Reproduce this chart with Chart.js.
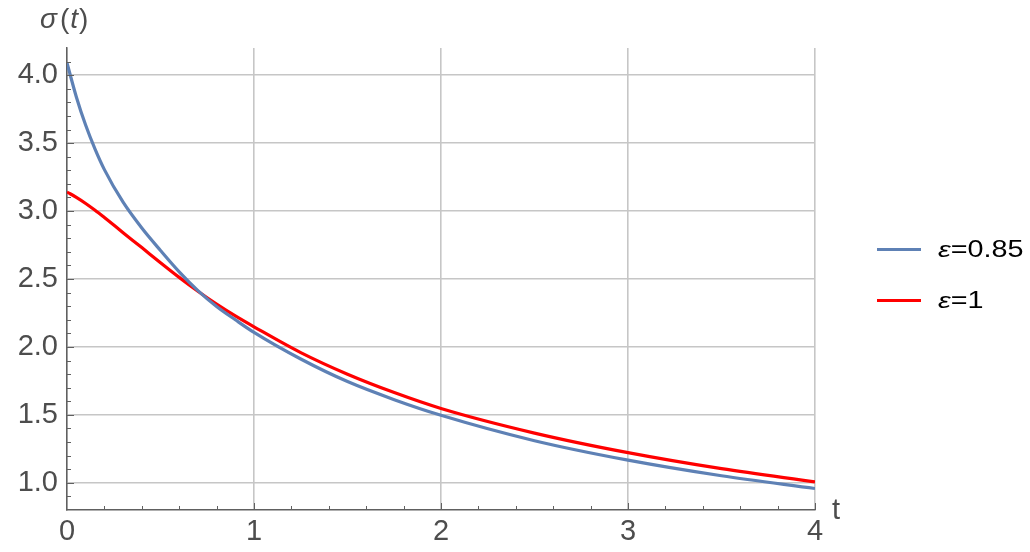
<!DOCTYPE html>
<html>
<head>
<meta charset="utf-8">
<script src="https://cdn.jsdelivr.net/npm/chart.js@4.4.0/dist/chart.umd.min.js"></script>
<style>
  body { margin: 0; background: #fff; }
  #wrap { position: relative; width: 1030px; height: 552px; }
  #legend {
    position: absolute; left: 877px; top: 224px;
    font-family: "Liberation Sans", Arial, sans-serif; font-size: 23px; color: #000;
  }
  .item { display: flex; align-items: center; height: 51px; }
  .swatch { width: 44px; height: 3px; }
  .label { margin-left: 17px; transform: scaleX(1.25); transform-origin: left center; white-space: nowrap; }
</style>
</head>
<body>
<div id="wrap">
  <canvas id="sigmaChart" width="1030" height="552"></canvas>
  <div id="legend"></div>
</div>
<script>
// values
var tValues = [0, 0.05, 0.1, 0.15, 0.2, 0.3, 0.4, 0.5, 0.6, 0.7, 0.8, 0.9, 1.0, 1.25, 1.5, 1.75, 2.0, 2.5, 3.0, 3.5, 4.0];
var sigmaEps085 = [4.09, 3.84, 3.631, 3.456, 3.305, 3.065, 2.875, 2.71, 2.553, 2.415, 2.298, 2.2, 2.107, 1.911, 1.745, 1.612, 1.497, 1.31, 1.167, 1.052, 0.958];
var sigmaEps1 = [3.14, 3.101, 3.056, 3.006, 2.952, 2.841, 2.731, 2.62, 2.512, 2.41, 2.315, 2.228, 2.148, 1.958, 1.799, 1.664, 1.547, 1.366, 1.222, 1.104, 1.007];
var seriesLabels = ["ε=0.85", "ε=1"];
var seriesColors = ["#5e81b5", "#ff0000"];

var xMinorStep = 0.2;
var yMinorStep = 0.1;

function toPoints(ys) {
  return tValues.map(function (t, i) { return { x: t, y: ys[i] }; });
}

var labelFont = '"Liberation Sans", Arial, sans-serif';
var axisGray = "#4d4d4d";

// inward minor/major tick marks and the two axis titles
var tickMarks = {
  id: "tickMarks",
  afterDraw: function (chart) {
    var c = chart.ctx;
    var xs = chart.scales.x, ys = chart.scales.y;
    var area = chart.chartArea;
    c.save();
    c.strokeStyle = "#606060";
    c.lineWidth = 1;
    var n = Math.round((xs.max - xs.min) / xMinorStep);
    for (var i = 1; i <= n; i++) {
      var t = xs.min + i * xMinorStep;
      var px = Math.round(xs.getPixelForValue(t)) + 0.5;
      var len = i % 5 === 0 ? 7 : 4;
      c.beginPath();
      c.moveTo(px, area.bottom);
      c.lineTo(px, area.bottom - len);
      c.stroke();
    }
    var m = Math.round((ys.max - ys.min) / yMinorStep);
    for (var j = 1; j < m; j++) {
      var v = ys.min + j * yMinorStep;
      var py = Math.round(ys.getPixelForValue(v)) + 0.5;
      var isMajor = Math.abs(v * 2 - Math.round(v * 2)) < 1e-6;
      c.beginPath();
      c.moveTo(area.left, py);
      c.lineTo(area.left + (isMajor ? 7 : 4), py);
      c.stroke();
    }

    // y title: σ(t)
    c.fillStyle = axisGray;
    c.textBaseline = "alphabetic";
    c.textAlign = "left";
    var x0 = area.left - 27, base = 28;
    var parts = [["σ", true], ["(", false], ["t", true], [")", false]];
    parts.forEach(function (p) {
      c.font = (p[1] ? "italic " : "") + "28px " + labelFont;
      c.fillText(p[0], x0, base);
      x0 += c.measureText(p[0]).width + (p[0] === "σ" ? 3 : 1);
    });

    // x title: t
    c.font = "29px " + labelFont;
    c.fillText("t", area.right + 17, area.bottom + 9);
    c.restore();
  }
};

// html legend built from the datasets
var htmlLegend = {
  id: "htmlLegend",
  afterUpdate: function (chart) {
    var box = document.getElementById("legend");
    box.innerHTML = "";
    chart.data.datasets.forEach(function (ds) {
      var item = document.createElement("div");
      item.className = "item";
      var sw = document.createElement("span");
      sw.className = "swatch";
      sw.style.background = ds.borderColor;
      var txt = document.createElement("span");
      txt.className = "label";
      txt.innerHTML = ds.label.replace("ε", "<i>ε</i>");
      item.appendChild(sw);
      item.appendChild(txt);
      box.appendChild(item);
    });
  }
};

var ctx = document.getElementById("sigmaChart").getContext("2d");

var config = {
  type: "line",
  data: {
    datasets: [
      {
        label: seriesLabels[0],
        data: toPoints(sigmaEps085),
        borderColor: seriesColors[0],
        borderWidth: 3.2,
        pointRadius: 0,
        cubicInterpolationMode: "monotone",
        fill: false
      },
      {
        label: seriesLabels[1],
        data: toPoints(sigmaEps1),
        borderColor: seriesColors[1],
        borderWidth: 3.2,
        pointRadius: 0,
        cubicInterpolationMode: "monotone",
        fill: false
      }
    ]
  },
  options: {
    responsive: false,
    animation: false,
    layout: { padding: { left: 0, top: 48, right: 215, bottom: 0 } },
    plugins: {
      legend: { display: false },
      tooltip: { enabled: false }
    },
    scales: {
      x: {
        type: "linear",
        min: 0,
        max: 4,
        afterFit: function (scale) { scale.height = 42; },
        grid: { color: "#c6c6c6", lineWidth: 1.6, drawTicks: false },
        border: { color: "#606060", width: 1.5 },
        ticks: {
          stepSize: 1,
          padding: 5,
          color: axisGray,
          font: { family: labelFont, size: 29 }
        }
      },
      y: {
        type: "linear",
        min: 0.8,
        max: 4.2,
        afterFit: function (scale) { scale.width = 67; },
        grid: { color: "#c6c6c6", lineWidth: 1.6, drawTicks: false },
        border: { color: "#606060", width: 1.5 },
        ticks: {
          stepSize: 0.5,
          includeBounds: false,
          padding: 9,
          color: axisGray,
          font: { family: labelFont, size: 29 },
          callback: function (v) { return Number(v).toFixed(1); }
        }
      }
    }
  },
  plugins: [tickMarks, htmlLegend]
};

var sigmaChart = new Chart(ctx, config);
</script>
</body>
</html>
